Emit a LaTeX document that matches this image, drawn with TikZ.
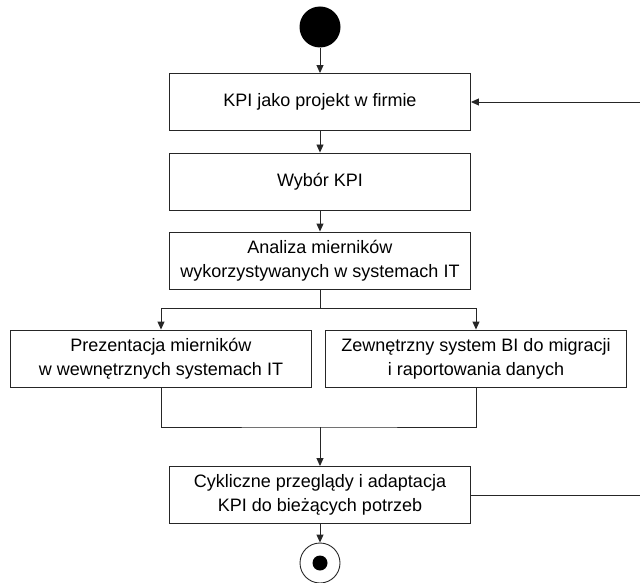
\documentclass[tikz,border=0pt]{standalone}
\usepackage{fontspec}
\setmainfont{Liberation Sans}
\usetikzlibrary{arrows.meta}

\begin{document}
\begin{tikzpicture}[x=1pt,y=-1pt,line width=.9pt,draw=black!85,
	krok/.style={draw,minimum width=301pt,minimum height=57pt,align=center,inner sep=0pt,font=\fontsize{18}{24}\selectfont},
	strz/.style={-{Triangle[length=8pt,width=7pt]}}]
			\useasboundingbox (0,0) rectangle (640,583);
			\clip (0,0) rectangle (640,583);
			\node [circle,fill=black,minimum size=41pt,inner sep=0pt] (start) at (320,27) {};
			\node [krok] (kpi) at (320,102) {KPI jako projekt w firmie};
			\node [krok] (wybor) at (320,181.5) {Wybór KPI};
			\node [krok] (analiza) at (320,260.5) {Analiza mierników\\wykorzystywanych w systemach IT};
			\node [krok] (prez) at (161,358.5) {Prezentacja mierników\\w wewnętrznych systemach IT};
			\node [krok] (zewn) at (476,358.5) {Zewnętrzny system BI do migracji\\i raportowania danych};
			\node [krok] (cykl) at (320,495) {Cykliczne przeglądy i adaptacja\\KPI do bieżących potrzeb};
			\node [circle,draw,minimum size=40pt,inner sep=0pt] (koniec) at (320,563) {};
			\fill (koniec.center) circle (7.5pt);
			\coordinate (rozw) at (320,308);
			\coordinate (scal) at (320,427);
			\draw [strz] (start) -- (kpi);
			\draw [strz] (kpi) -- (wybor);
			\draw [strz] (wybor) -- (analiza);
			\draw (analiza) -- (rozw);
			\draw [strz] (rozw) -| (prez.north);
			\draw [strz] (rozw) -| (zewn.north);
			\draw (prez.south) |- (scal) -| (zewn.south);
			\draw [strz] (scal) -- (cykl);
			\draw [strz] (cykl) -- (koniec);
			\draw [strz] (cykl.east) -- ++(180,0) |- (kpi.east);
			\end{tikzpicture}
\end{document}
